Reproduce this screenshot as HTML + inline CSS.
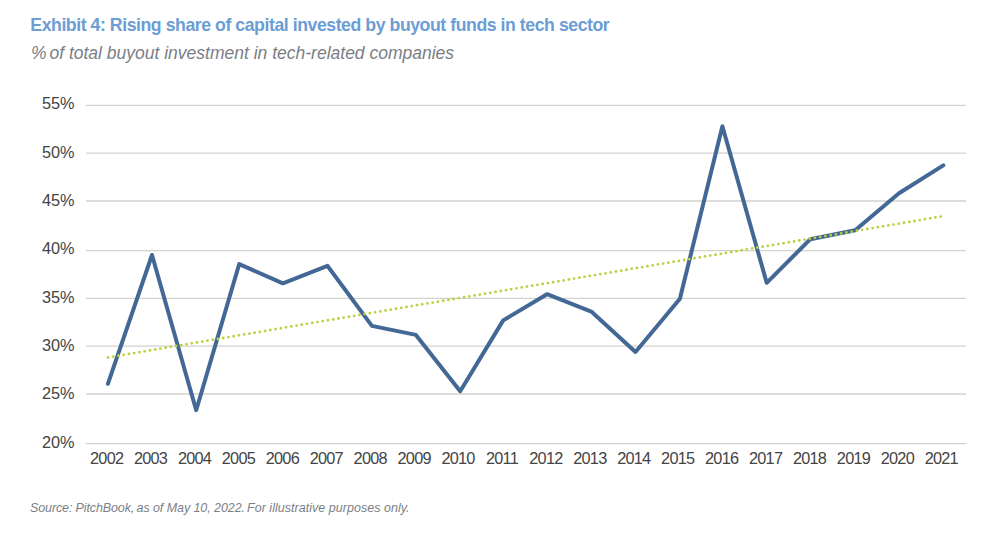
<!DOCTYPE html>
<html><head><meta charset="utf-8">
<style>
html,body{margin:0;padding:0;background:#fff;}
body{width:1004px;height:534px;position:relative;overflow:hidden;font-family:"Liberation Sans",sans-serif;}
#title{position:absolute;left:30.3px;top:15px;letter-spacing:-0.45px;font-weight:bold;font-size:17.7px;color:#6c9dd4;white-space:nowrap;}
#sub{position:absolute;left:31px;top:43px;font-style:italic;font-size:17.5px;color:#7a7e85;white-space:nowrap;}
#src{position:absolute;left:30px;top:501px;letter-spacing:-0.12px;font-style:italic;font-size:12.5px;color:#7b7f86;white-space:nowrap;}
.yl{position:absolute;right:929.5px;font-size:16.3px;color:#444444;white-space:nowrap;text-align:right;}
.xl{position:absolute;top:449px;width:50px;text-align:center;font-size:16.3px;color:#444444;letter-spacing:-0.75px;white-space:nowrap;}
svg{position:absolute;left:0;top:0;}
.srcx{position:absolute;top:501px;font-style:italic;font-size:12.5px;color:#7b7f86;white-space:nowrap;letter-spacing:-0.07px;}
#src2{left:136.5px;}
#src3{left:247px;letter-spacing:0.03px;}
</style></head><body>
<div id="title">Exhibit 4: Rising share of capital invested by buyout funds in tech sector</div>
<div id="sub"><span style="letter-spacing:-2px">%</span> of total buyout investment in tech-related companies</div>
<svg width="1004" height="534" viewBox="0 0 1004 534">
<g stroke="#d3d2cd" stroke-width="1.3">
<line x1="86" x2="966" y1="105.4" y2="105.4" />
<line x1="86" x2="966" y1="153.2" y2="153.2" />
<line x1="86" x2="966" y1="201.0" y2="201.0" />
<line x1="86" x2="966" y1="250.7" y2="250.7" />
<line x1="86" x2="966" y1="298.3" y2="298.3" />
<line x1="86" x2="966" y1="346.2" y2="346.2" />
<line x1="86" x2="966" y1="394.0" y2="394.0" />
<line x1="86" x2="966" y1="443.7" y2="443.7" />
</g>
<path d="M107.9 383.8 L152.0 255.0 L196.2 410.2 L239.2 264.1 L282.9 283.3 L327.4 265.8 L371.9 325.9 L415.9 334.9 L460.2 391.2 L503.2 320.4 L547.0 294.2 L591.3 311.6 L635.5 352.0 L679.9 298.7 L722.4 126.2 L766.7 282.8 L810.3 239.2 L855.2 230.2 L899.0 193.2 L943.3 165.4" fill="none" stroke="#436896" stroke-width="4.0" stroke-linejoin="round" stroke-linecap="round"/>
<line x1="108" y1="357.5" x2="944" y2="216" stroke="#bad13e" stroke-width="2.8" stroke-linecap="round" stroke-dasharray="0 5.3115"/>
</svg>
<div class="yl" style="top:94px">55%</div>
<div class="yl" style="top:143px">50%</div>
<div class="yl" style="top:191px">45%</div>
<div class="yl" style="top:239px">40%</div>
<div class="yl" style="top:288px">35%</div>
<div class="yl" style="top:336px">30%</div>
<div class="yl" style="top:384px">25%</div>
<div class="yl" style="top:433px">20%</div>
<div class="xl" style="left:81.65px">2002</div>
<div class="xl" style="left:125.58px">2003</div>
<div class="xl" style="left:169.51px">2004</div>
<div class="xl" style="left:213.44px">2005</div>
<div class="xl" style="left:257.37px">2006</div>
<div class="xl" style="left:301.30px">2007</div>
<div class="xl" style="left:345.23px">2008</div>
<div class="xl" style="left:389.16px">2009</div>
<div class="xl" style="left:433.09px">2010</div>
<div class="xl" style="left:477.02px">2011</div>
<div class="xl" style="left:520.95px">2012</div>
<div class="xl" style="left:564.88px">2013</div>
<div class="xl" style="left:608.81px">2014</div>
<div class="xl" style="left:652.74px">2015</div>
<div class="xl" style="left:696.67px">2016</div>
<div class="xl" style="left:740.60px">2017</div>
<div class="xl" style="left:784.53px">2018</div>
<div class="xl" style="left:828.46px">2019</div>
<div class="xl" style="left:872.39px">2020</div>
<div class="xl" style="left:916.32px">2021</div>
<div id="src">Source: PitchBook,</div><div id="src2" class="srcx">as of May 10, 2022.</div><div id="src3" class="srcx">For illustrative purposes only.</div>
</body></html>
